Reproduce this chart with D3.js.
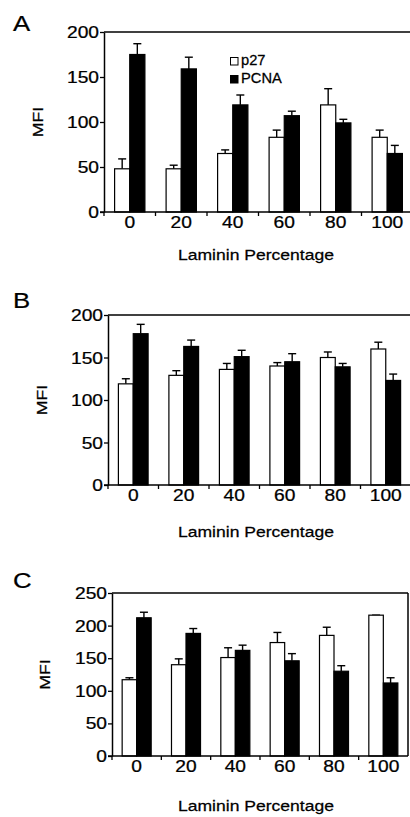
<!DOCTYPE html>
<html>
<head>
<meta charset="utf-8">
<script src="https://cdn.jsdelivr.net/npm/d3@7"></script>
<style>
  body { margin: 0; background: #fff; }
  text { font-family: "Liberation Sans", Arial, sans-serif; fill: #000; stroke: #000; stroke-width: 0.25; }
</style>
</head>
<body>
<script>
// categories and series
var categories = ["0", "20", "40", "60", "80", "100"];
var seriesNames = ["p27", "PCNA"];
var seriesFill = ["#fff", "#000"];

// panel A
var p27A = [48, 48, 65, 83, 119, 83];
var p27ErrA = [11, 4, 4, 8, 18, 8];
var pcnaA = [175, 159, 119, 107, 99, 65];
var pcnaErrA = [12, 13, 11, 5, 4, 9];

// panel B
var p27B = [119, 129, 136, 140, 150, 160];
var p27ErrB = [6, 5.5, 7, 4, 6.5, 8];
var pcnaB = [178, 163, 151, 145, 139, 123];
var pcnaErrB = [11, 7.5, 7.5, 9.5, 4, 7.5];

// panel C
var p27C = [117, 140, 151, 174, 185, 216];
var p27ErrC = [3, 9, 15, 15.5, 12.5, 0];
var pcnaC = [212, 188, 162, 146, 130, 112];
var pcnaErrC = [8.5, 7.5, 8, 11, 8.5, 8];

var yTicksAB = [0, 50, 100, 150, 200];
var yTicksC = [0, 50, 100, 150, 200, 250];

var xTitle = "Laminin Percentage";
var yTitle = "MFI";

var W = 410, H = 817;
var stretch = 1.2;

var svg = d3.select("body").append("svg")
  .attr("width", W)
  .attr("height", H);

function addText(g, x, y, str, size, anchor, sx, rotate) {
  var tr = "translate(" + x + "," + y + ")" + (rotate ? " rotate(" + rotate + ")" : "") + " scale(" + sx + ",1)";
  return g.append("text")
    .attr("transform", tr)
    .attr("text-anchor", anchor)
    .style("font-size", size + "px")
    .text(str);
}

function drawPanel(p) {
  var g = svg.append("g");

  var x0 = d3.scaleBand().domain(categories).range([p.left, p.right]);
  var x1 = d3.scaleBand().domain(seriesNames).range([0, x0.bandwidth()])
    .paddingOuter(0.7).paddingInner(0);
  var y = d3.scaleLinear().domain([0, p.yMax]).range([p.bottom, p.top]);

  var rows = categories.map(function (c, i) {
    return [
      { cat: c, key: "p27", v: p.p27[i], e: p.p27Err[i] },
      { cat: c, key: "PCNA", v: p.pcna[i], e: p.pcnaErr[i] }
    ];
  });

  var grp = g.selectAll("g.cat").data(rows).enter().append("g")
    .attr("transform", function (d) { return "translate(" + x0(d[0].cat) + ",0)"; });

  // error bars first (upward only)
  grp.selectAll("line.err").data(function (d) { return d; }).enter().append("line")
    .attr("x1", function (d) { return x1(d.key) + x1.bandwidth() / 2; })
    .attr("x2", function (d) { return x1(d.key) + x1.bandwidth() / 2; })
    .attr("y1", function (d) { return y(d.v); })
    .attr("y2", function (d) { return y(d.v + d.e); })
    .attr("stroke", "#000")
    .attr("stroke-width", 1.4);
  grp.selectAll("line.cap").data(function (d) { return d; }).enter().append("line")
    .attr("x1", function (d) { return x1(d.key) + x1.bandwidth() / 2 - 4; })
    .attr("x2", function (d) { return x1(d.key) + x1.bandwidth() / 2 + 4; })
    .attr("y1", function (d) { return y(d.v + d.e); })
    .attr("y2", function (d) { return y(d.v + d.e); })
    .attr("stroke", "#000")
    .attr("stroke-width", 1.4);

  grp.selectAll("rect").data(function (d) { return d; }).enter().append("rect")
    .attr("x", function (d) { return x1(d.key); })
    .attr("y", function (d) { return y(d.v); })
    .attr("width", x1.bandwidth())
    .attr("height", function (d) { return y(0) - y(d.v); })
    .attr("fill", function (d) { return seriesFill[seriesNames.indexOf(d.key)]; })
    .attr("stroke", "#000")
    .attr("stroke-width", 1.2);

  // frame: top and right
  g.append("line").attr("x1", p.left).attr("x2", p.right).attr("y1", p.top).attr("y2", p.top)
    .attr("stroke", "#000").attr("stroke-width", 1.5);
  g.append("line").attr("x1", p.right).attr("x2", p.right).attr("y1", p.top).attr("y2", p.bottom)
    .attr("stroke", "#000").attr("stroke-width", 1.5);

  // y axis
  var ya = g.append("g").attr("transform", "translate(" + p.left + ",0)")
    .call(d3.axisLeft(y).tickValues(p.ticks).tickSize(4).tickSizeOuter(0).tickPadding(0));
  ya.select(".domain").attr("stroke-width", 1.5);
  ya.selectAll(".tick line").attr("stroke-width", 1.3);
  ya.selectAll(".tick text").remove();
  ya.selectAll(".tick").each(function (d) {
    addText(d3.select(this), -5, 5.5, d, 16, "end", stretch);
  });

  // x axis: baseline plus boundary ticks
  g.append("line").attr("x1", p.left - 4).attr("x2", p.right).attr("y1", p.bottom).attr("y2", p.bottom)
    .attr("stroke", "#000").attr("stroke-width", 1.5);
  g.selectAll("line.xt").data(categories).enter().append("line")
    .attr("x1", function (c) { return x0(c); })
    .attr("x2", function (c) { return x0(c); })
    .attr("y1", p.bottom)
    .attr("y2", p.bottom + 4)
    .attr("stroke", "#000").attr("stroke-width", 1.3);
  categories.forEach(function (c) {
    addText(g, x0(c) + x0.bandwidth() / 2, p.bottom + 16, c, 16, "middle", stretch);
  });

  addText(g, 256, p.xTitleY, xTitle, 15, "middle", 1.17);
  addText(g, p.yTitleX, (p.top + p.bottom) / 2, yTitle, 14.5, "middle", 1.22, -90);
  addText(g, 13, p.letterY, p.label, 23, "start", 1.12);

  if (p.legend) {
    var lg = g.append("g").attr("transform", "translate(230,57)");
    seriesNames.forEach(function (s, i) {
      lg.append("rect").attr("x", 0.5).attr("y", i * 18 + 0.5).attr("width", 7.5).attr("height", 7.5)
        .attr("fill", seriesFill[i]).attr("stroke", "#000").attr("stroke-width", 1);
      addText(lg, 11, i * 18 + 8, s, 14, "start", 1.05);
    });
  }
}

drawPanel({ label: "A", letterY: 31, p27: p27A, p27Err: p27ErrA, pcna: pcnaA, pcnaErr: pcnaErrA,
  ticks: yTicksAB, yMax: 200, left: 104, right: 413, top: 32, bottom: 212, yTitleX: 43, xTitleY: 260, legend: true });
drawPanel({ label: "B", letterY: 308, p27: p27B, p27Err: p27ErrB, pcna: pcnaB, pcnaErr: pcnaErrB,
  ticks: yTicksAB, yMax: 200, left: 108, right: 411, top: 315, bottom: 485, yTitleX: 47, xTitleY: 537, legend: false });
drawPanel({ label: "C", letterY: 588, p27: p27C, p27Err: p27ErrC, pcna: pcnaC, pcnaErr: pcnaErrC,
  ticks: yTicksC, yMax: 250, left: 112, right: 408, top: 593, bottom: 756, yTitleX: 50, xTitleY: 811, legend: false });
</script>
</body>
</html>
